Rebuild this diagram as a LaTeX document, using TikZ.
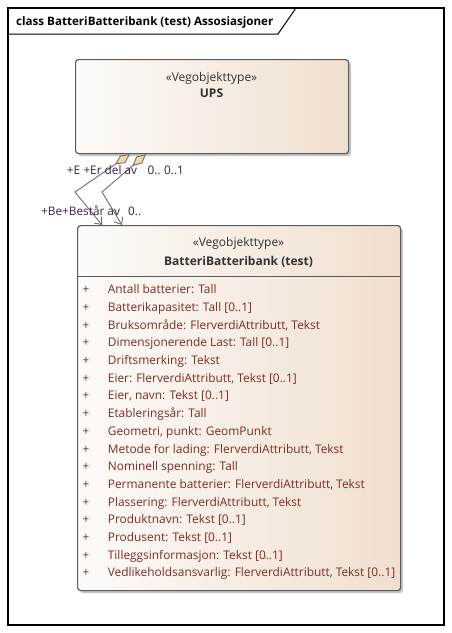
\documentclass[tikz,border=0pt]{standalone}
\usepackage{fontspec}
\setmainfont{Open Sans}
\usetikzlibrary{positioning,arrows.meta,shadows}

\definecolor{boxleft}{RGB}{253,251,249}
\definecolor{boxright}{RGB}{240,223,207}
\definecolor{boxline}{RGB}{90,90,90}
\definecolor{attrcol}{RGB}{125,45,35}
\definecolor{rolecol}{RGB}{60,30,75}
\definecolor{headcol}{RGB}{50,50,50}
\definecolor{diafill}{RGB}{245,215,170}
\definecolor{connline}{RGB}{110,110,110}

\tikzstyle{classbox} = [draw=boxline, line width=1.2pt, rectangle, rounded corners=3pt, left color=boxleft, right color=boxright, anchor=north west, drop shadow={shadow xshift=2.5pt, shadow yshift=-2.5pt, fill=black!45, opacity=0.5}]
\tikzstyle{stereo} = [anchor=base, text=headcol, inner sep=0pt, font=\fontsize{12}{14}\selectfont]
\tikzstyle{cname} = [stereo, font=\fontsize{12}{14}\selectfont\bfseries]
\tikzstyle{attr} = [anchor=base west, text=attrcol, inner sep=0pt, font=\fontsize{11.9}{14}\selectfont]
\tikzstyle{role} = [anchor=base west, text=rolecol, inner sep=0pt, font=\fontsize{11.8}{14}\selectfont]
\tikzstyle{assoc} = [draw=connline, line width=0.9pt, {Diamond[length=18pt,width=9pt,fill=diafill]}-{Straight Barb[length=6pt,width=10pt]}]

\begin{document}
\begin{tikzpicture}[x=1pt, y=-1pt]
  \useasboundingbox (0,0) rectangle (452,633);
  \draw[line width=1.1pt] (8,8) rectangle (444,625);
  \draw[line width=1pt] (8,34) -- (278,34) -- (296,8);
  \node[anchor=base west, inner sep=0pt, font=\fontsize{11.6}{14}\selectfont\bfseries] (title) at (16,25.3) {class BatteriBatteribank (test) Assosiasjoner};

  \node[classbox, minimum width=273pt, minimum height=94pt] (ups) at (75,59) {};
  \node[stereo] (upsst) at (211.5,81) {«Vegobjekttype»};
  \node[cname] (upsnm) at (211.5,97.7) {UPS};

  \node[classbox, minimum width=323pt, minimum height=365pt] (bank) at (77,225) {};
  \node[stereo] (bankst) at (238.5,246.7) {«Vegobjekttype»};
  \node[cname] (banknm) at (238.5,265) {BatteriBatteribank (test)};
  \draw[boxline, line width=0.8pt] (bank.west |- 0,276) -- (bank.east |- 0,276);

  \foreach \att [count=\i] in {{Antall batterier: Tall}, {Batterikapasitet: Tall [0..1]}, {Bruksområde: FlerverdiAttributt, Tekst}, {Dimensjonerende Last: Tall [0..1]}, {Driftsmerking: Tekst}, {Eier: FlerverdiAttributt, Tekst [0..1]}, {Eier, navn: Tekst [0..1]}, {Etableringsår: Tall}, {Geometri, punkt: GeomPunkt}, {Metode for lading: FlerverdiAttributt, Tekst}, {Nominell spenning: Tall}, {Permanente batterier: FlerverdiAttributt, Tekst}, {Plassering: FlerverdiAttributt, Tekst}, {Produktnavn: Tekst [0..1]}, {Produsent: Tekst [0..1]}, {Tilleggsinformasjon: Tekst [0..1]}, {Vedlikeholdsansvarlig: FlerverdiAttributt, Tekst [0..1]}} {
    \node[attr, anchor=base] (plus\i) at (86,276+17.7*\i) {+};
    \node[attr] (att\i) at (107.7,276+17.7*\i) {\att};
  }

  \coordinate (k1) at (75,192);
  \coordinate (k2) at (102,192);
  \draw[assoc] ([xshift=55pt]ups.south west) -- (k1) -- ([xshift=25pt]bank.north west);
  \draw[assoc] ([xshift=71pt]ups.south west) -- (k2) -- ([xshift=45pt]bank.north west);

  \node[role] (r1) at (66.7,174.7) {+E};
  \node[role] (r2) at (83.3,174.7) {+Er del av};
  \node[role] (m1) at (147.3,174.7) {0..};
  \node[role] (m2) at (164,174.7) {0..1};
  \node[role] (r3) at (41,215.3) {+Be};
  \node[role] (r4) at (62,215.3) {+Består av};
  \node[role] (m3) at (128,215.3) {0..};
\end{tikzpicture}
\end{document}
